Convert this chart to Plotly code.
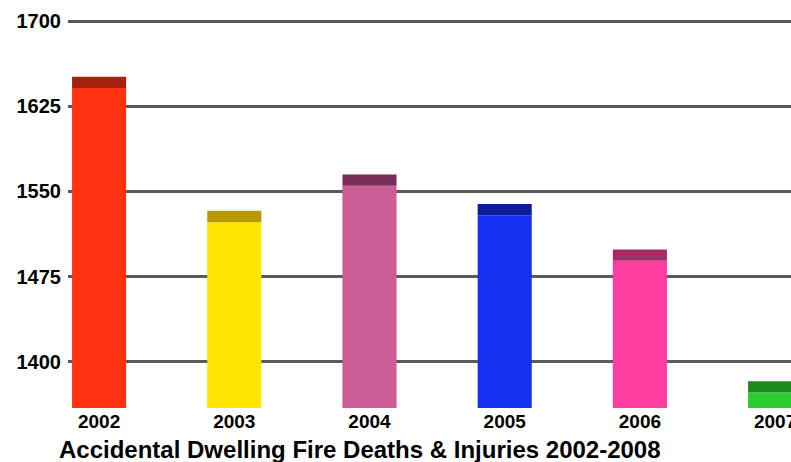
import plotly.graph_objects as go

years = ["2002", "2003", "2004", "2005", "2006", "2007"]
values = [1641, 1523, 1555, 1529, 1489, 1373]
bar_colors = ["#FF3311", "#FFE600", "#CC5C96", "#1530F0", "#FF3DA0", "#2BCC2B"]
cap_colors = ["#A8200E", "#B89A00", "#7A2E55", "#0C1C9A", "#A82868", "#1C8A1C"]
y_ticks = [1400, 1475, 1550, 1625, 1700]

cap = 10  # visual depth of the darker top face, in axis units
x_pos = list(range(len(years)))

fig = go.Figure()
fig.add_trace(go.Bar(
    x=x_pos, y=values,
    marker=dict(color=bar_colors, line=dict(width=0)),
    width=0.40, hoverinfo="skip",
))
fig.add_trace(go.Bar(
    x=x_pos, y=[cap] * len(values), base=values,
    marker=dict(color=cap_colors, line=dict(width=0)),
    width=0.40, hoverinfo="skip",
))

W, H = 791, 462
ml, mr, mt, mb = 68, 0, 8, 54
plot_w = W - ml - mr
plot_h = H - mt - mb
fig.update_layout(
    width=W, height=H,
    margin=dict(l=ml, r=mr, t=mt, b=mb),
    paper_bgcolor="white", plot_bgcolor="white",
    barmode="overlay", showlegend=False,
    font=dict(family="Liberation Sans, Arial, sans-serif", color="black"),
    xaxis=dict(
        range=[-0.23, -0.23 + plot_w / 135.2], tickvals=x_pos, ticktext=years,
        showgrid=False, zeroline=False, showline=False, ticks="",
        tickfont=dict(size=19, weight="bold"), ticklabeloverflow="allow",
        automargin=False,
    ),
    yaxis=dict(
        range=[1359.4, 1711.5], tickvals=y_ticks,
        showgrid=True, gridcolor="#5a5a5a", gridwidth=2.5,
        zeroline=False, showline=False, ticks="",
        tickfont=dict(size=20, weight="bold"), ticklabelstandoff=6,
        automargin=False,
    ),
    annotations=[dict(
        text="Accidental Dwelling Fire Deaths & Injuries 2002-2008",
        xref="paper", yref="paper", x=(360 - ml) / plot_w, y=-41 / plot_h,
        xanchor="center", yanchor="middle", showarrow=False,
        font=dict(size=24, weight="bold", color="black"),
    )],
)

fig.write_html(
    "out.html",
    config={"displayModeBar": False},
    post_script="document.body.style.margin='0';document.body.style.overflow='hidden';",
)
